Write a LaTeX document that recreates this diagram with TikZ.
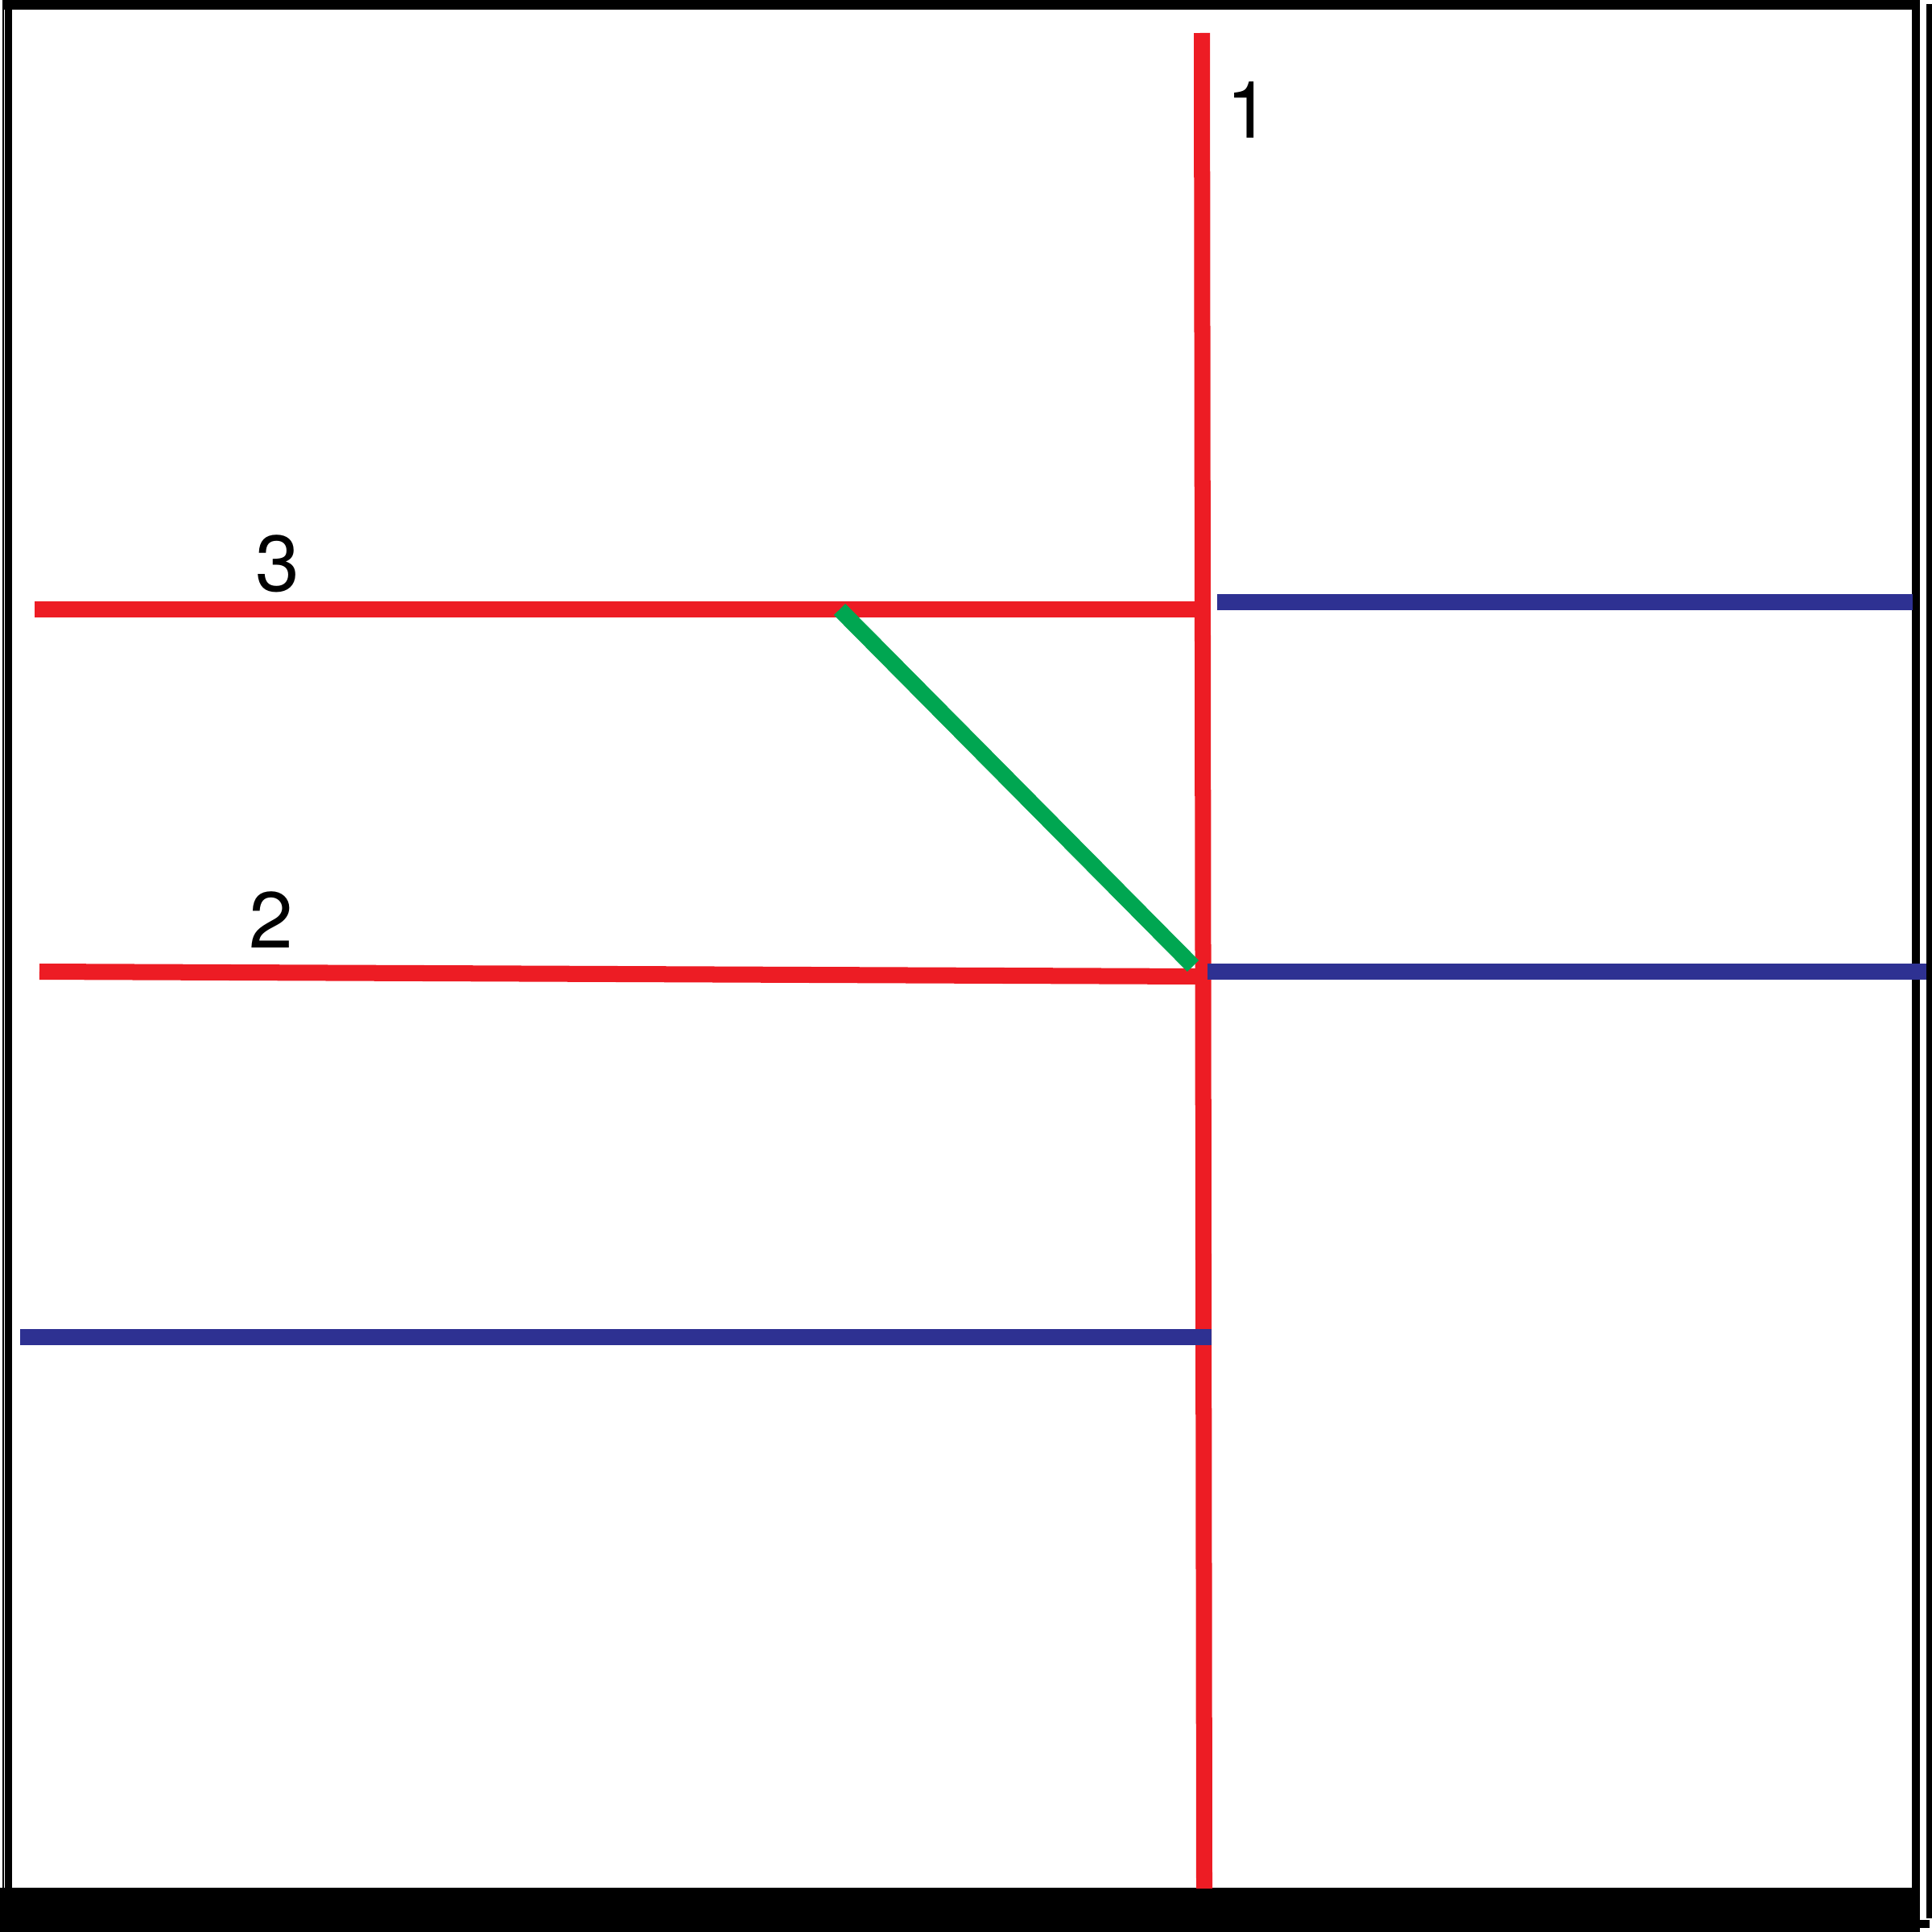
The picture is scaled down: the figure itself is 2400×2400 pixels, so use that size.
\documentclass[tikz,border=0pt]{standalone}
\usepackage{fontspec}
\setmainfont{TeX Gyre Heros}
\definecolor{wirered}{HTML}{ED1C24}
\definecolor{wireblue}{HTML}{2E3192}
\definecolor{wiregreen}{HTML}{00A651}
\tikzset{
  redwire/.style={draw=wirered, line width=5.69pt},
  bluewire/.style={draw=wireblue, line width=5.69pt},
  greenwire/.style={draw=wiregreen, line width=5.69pt},
  tag/.style={inner sep=0pt, anchor=base, font=\fontsize{28}{34}\selectfont}
}

\begin{document}
\begin{tikzpicture}[x=0.01cm, y=-0.01cm]
    \useasboundingbox (0,0) rectangle (2400,2400);
    \fill[white] (0,0) rectangle (2400,2400);
    % frame
    \fill (5,0) rectangle (2385,12);
    \fill (3,0) rectangle (5,2400);
    \fill (6,0) rectangle (15,2400);
    \fill (2375,5) rectangle (2385,2345);
    \fill (2393,5) rectangle (2400,2383);
    \fill (0,2345) rectangle (2385,2400);
    \fill (2385,2385) rectangle (2397,2395);
    % end points
    \coordinate (top) at (1493,41);
    \coordinate (bot) at (1496,2346);
    \coordinate (a3) at (43,757);
    \coordinate (b3) at (1504,757);
    \coordinate (a2) at (49,1207);
    \coordinate (b2) at (1490,1213);
    \coordinate (g1) at (1043,757);
    \coordinate (g2) at (1482,1200);
    \coordinate (u1) at (1512,748);
    \coordinate (u2) at (2376,748);
    \coordinate (m1) at (1500,1207);
    \coordinate (m2) at (2393,1207);
    \coordinate (l1) at (25,1661);
    \coordinate (l2) at (1505,1661);
    % wires
    \draw[redwire] (top) -- (bot);
    \draw[redwire] (a3) -- (b3);
    \draw[redwire] (a2) -- (b2);
    \draw[greenwire] (g1) -- (g2);
    \draw[bluewire] (u1) -- (u2);
    \draw[bluewire] (m1) -- (m2);
    \draw[bluewire] (l1) -- (l2);
    % labels
    \node[tag] (n1) at (1551,172) {1};
    \node[tag] (n3) at (345,734) {3};
    \node[tag] (n2) at (337,1177) {2};
\end{tikzpicture}
\end{document}
